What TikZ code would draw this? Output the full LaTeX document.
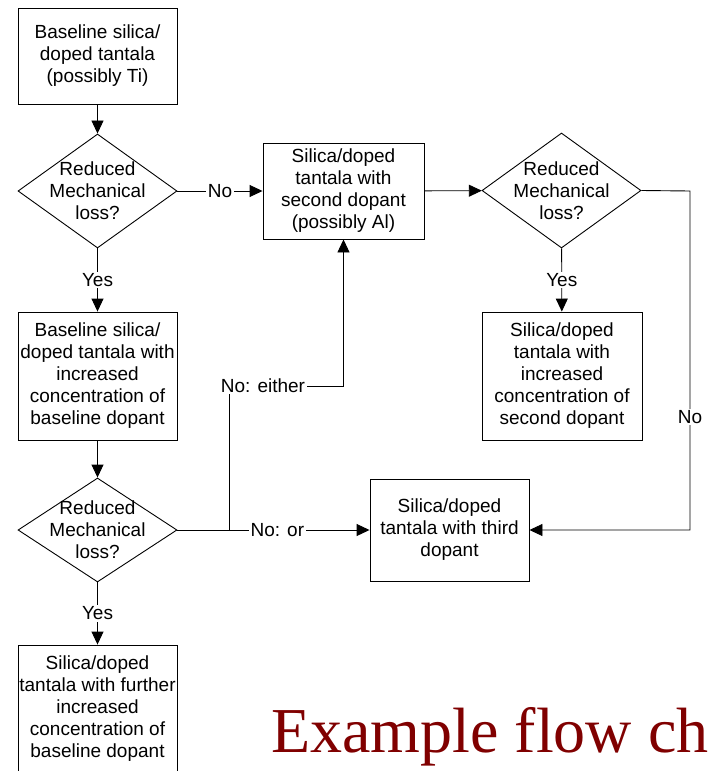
\documentclass[tikz,border=0pt]{standalone}
\usepackage{fontspec}
\setmainfont{Liberation Sans}
\newfontfamily\titlefont{Liberation Serif}
\usetikzlibrary{arrows.meta,shapes.geometric}
\definecolor{titlered}{HTML}{800000}
\begin{document}
\begin{tikzpicture}[x=1pt,y=-1pt,
  every node/.style={font=\fontsize{19}{22}\selectfont},
  box/.style={draw=black,line width=0.9pt,rectangle,inner sep=0pt,align=center},
  dia/.style={draw=black,line width=0.9pt,diamond,inner sep=0pt,aspect=1},
  dtext/.style={inner sep=0pt,align=center},
  conn/.style={line width=0.9pt,-{Triangle[length=13pt,width=12pt]}},
  plain/.style={line width=0.9pt},
  lbl/.style={fill=white,inner sep=1.5pt}]
\useasboundingbox (0,0) rectangle (707,771);
\clip (0,0) rectangle (707,771);
% boxes
\node[box,minimum width=159pt,minimum height=96pt] (b1) at (97.5,56) {Baseline silica/\\doped tantala\\(possibly Ti)};
\node[box,minimum width=161pt,minimum height=96pt] (b2) at (343.5,191) {Silica/doped\\tantala with\\second dopant\\(possibly Al)};
\node[box,minimum width=159pt,minimum height=128pt] (b3) at (97.5,376) {Baseline silica/\\doped tantala with\\increased\\concentration of\\baseline dopant};
\node[box,minimum width=160pt,minimum height=128pt] (b4) at (562,376) {Silica/doped\\tantala with\\increased\\concentration of\\second dopant};
\node[box,minimum width=159pt,minimum height=102pt] (b5) at (449.5,530) {Silica/doped\\tantala with third\\dopant};
\node[box,minimum width=159pt,minimum height=128pt] (b6) at (97.5,709) {Silica/doped\\tantala with further\\increased\\concentration of\\baseline dopant};
% diamonds
\node[dia,minimum width=159pt,minimum height=114pt] (d1) at (97.5,191) {};
\node[dtext] (d1t) at (d1) {Reduced\\Mechanical\\loss?};
\node[dia,minimum width=159pt,minimum height=115pt] (d2) at (561.5,190.5) {};
\node[dtext] (d2t) at (d2) {Reduced\\Mechanical\\loss?};
\node[dia,minimum width=159pt,minimum height=104pt] (d3) at (97.5,530) {};
\node[dtext] (d3t) at (d3) {Reduced\\Mechanical\\loss?};
% connector corner points
\coordinate (c1) at (229,530);
\coordinate (c2) at (229,386);
\coordinate (c3) at (343.5,386);
\coordinate (c4) at (690,191);
\coordinate (c5) at (690,530);
% connectors
\draw[conn] (b1) -- (d1);
\draw[conn] (d1) -- node[lbl] (l1) {Yes} (b3);
\draw[conn] (d1) -- node[lbl] (l2) {No} (b2);
\draw[conn] (b2) -- (d2);
\draw[conn] (d2) -- node[lbl] (l3) {Yes} (b4);
\draw[conn] (b3) -- (d3);
\draw[conn] (d3) -- node[lbl] (l4) {Yes} (b6);
\draw[conn] (d3.east) -- node[lbl,pos=0.52] (l5) {No: or} (b5.west);
\draw[conn] (d3.east) -- (c1) -- (c2) -- (c3) -- (b2.south);
\node[lbl] (l6) at (263,386) {No: either};
\draw[conn] (d2.east) -- (c4) -- (c5) -- (b5.east);
\node[lbl] (l7) at (690,417) {No};
% title
\node[anchor=base west,inner sep=0pt,text=titlered,font=\titlefont\fontsize{64}{70}\selectfont] (title) at (271,752) {Example flow ch};
\end{tikzpicture}
\end{document}
